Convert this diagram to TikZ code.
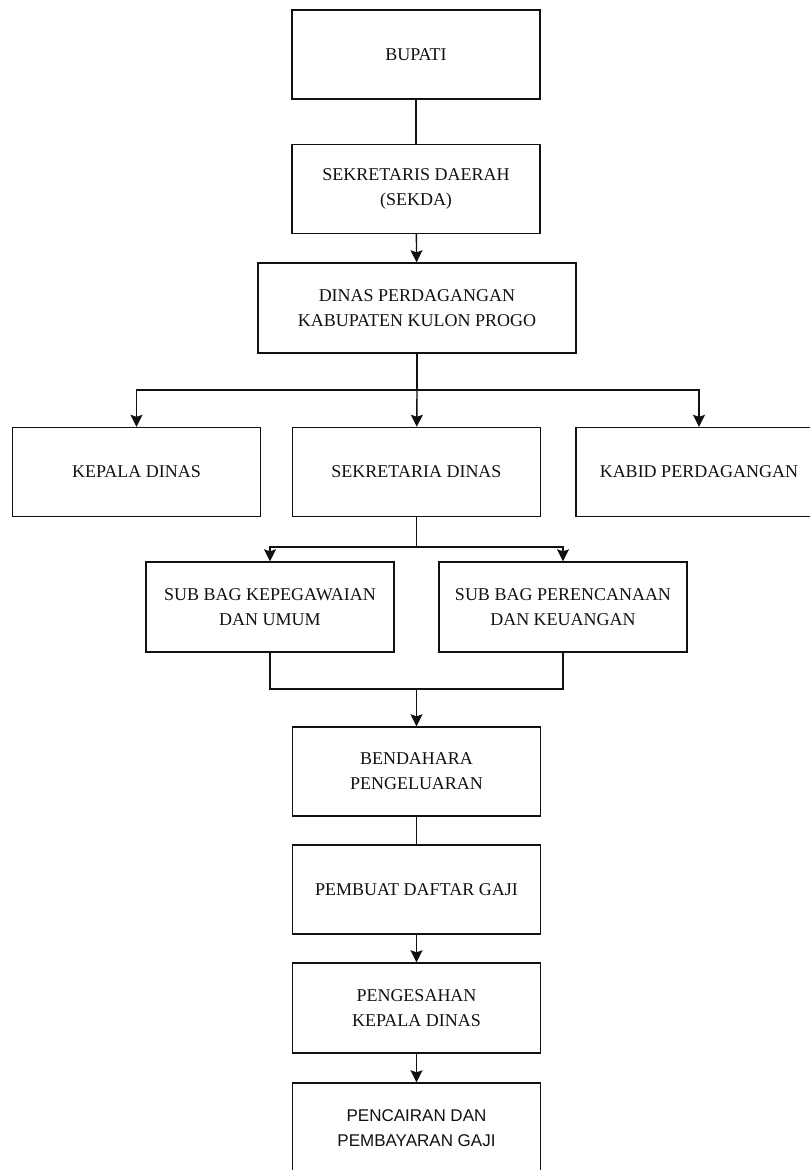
\documentclass[tikz,border=0pt]{standalone}
\usepackage{fontspec}
\setmainfont{Liberation Serif}
\newfontfamily\boxsans{Liberation Sans}
\usepackage{tikz}
\usetikzlibrary{arrows.meta,positioning}
\definecolor{ink}{HTML}{111111}

\begin{document}
\begin{tikzpicture}[
  x=1pt,
  y=-1pt,
  unit/.style={
    rectangle,draw=ink,line width=1.4pt,fill=white,
    minimum width=248pt,minimum height=89pt,inner sep=2pt,
    align=center,text=ink,font=\fontsize{18}{25}\selectfont
  },
  widebox/.style={unit,minimum width=318pt,minimum height=90pt},
  link/.style={draw=ink,line width=1.4pt},
  flow/.style={
    link,-{Stealth[length=12pt,width=12pt,inset=2pt]}
  }
]
  \useasboundingbox (0,0) rectangle (810,1170);

  % Top of the chain
  \node[unit] (bupati) at (416,54.5) {BUPATI};
  \node[unit] (sekda) at (416,189) {SEKRETARIS DAERAH\\(SEKDA)};
  \node[widebox] (dinas) at (417,308) {DINAS PERDAGANGAN\\KABUPATEN KULON PROGO};
  \draw[link] (bupati) -- (sekda);
  \draw[flow] (sekda) -- (dinas);

  % Three units under the dinas
  \node[unit] (kepala) at (136.5,472) {KEPALA DINAS};
  \node[unit] (sekretaria) at (416.5,472) {SEKRETARIA DINAS};
  \node[unit,minimum width=246pt] (kabid) at (699,472) {KABID PERDAGANGAN};
  \coordinate (bus) at (417,390);
  \draw[link] (dinas) -- (bus);
  \draw[flow] (bus) -| (kepala);
  \draw[flow] (bus) -- (sekretaria);
  \draw[flow] (bus) -| (kabid);

  % Sub bagian
  \node[unit,minimum height=90pt] (subkep) at (270,607) {SUB BAG KEPEGAWAIAN\\DAN UMUM};
  \node[unit,minimum height=90pt] (subren) at (563,607) {SUB BAG PERENCANAAN\\DAN KEUANGAN};
  \coordinate (subbus) at (416.5,547);
  \draw[link] (sekretaria) -- (subbus);
  \draw[flow] (subbus) -| (subkep);
  \draw[flow] (subbus) -| (subren);

  % Payroll chain
  \node[unit] (bendahara) at (416.5,771.5) {BENDAHARA\\PENGELUARAN};
  \node[unit] (pembuat) at (416.5,889.5) {PEMBUAT DAFTAR GAJI};
  \node[unit,minimum height=90pt] (pengesahan) at (416.5,1008) {PENGESAHAN\\KEPALA DINAS};
  \node[unit,minimum height=90pt,font=\boxsans\fontsize{17}{25}\selectfont] (pencairan) at (416.5,1128)
    {PENCAIRAN DAN\\PEMBAYARAN GAJI};
  \coordinate (merge) at (416.5,689);
  \draw[link] (subkep) |- (merge) -| (subren);
  \draw[flow] (merge) -- (bendahara);
  \draw[link] (bendahara) -- (pembuat);
  \draw[flow] (pembuat) -- (pengesahan);
  \draw[flow] (pengesahan) -- (pencairan);
\end{tikzpicture}
\end{document}
